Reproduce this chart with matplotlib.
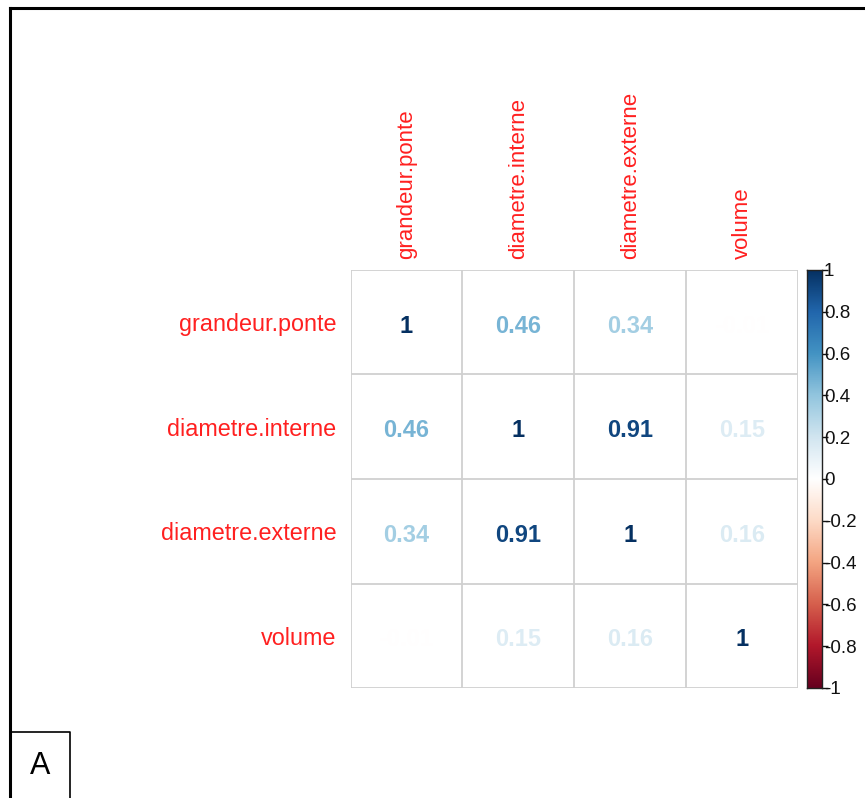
import matplotlib
matplotlib.use("Agg")
import matplotlib.pyplot as plt
import numpy as np
from matplotlib.colors import LinearSegmentedColormap
from matplotlib.lines import Line2D

# ---- data ----
variables = ["grandeur.ponte", "diametre.interne", "diametre.externe", "volume"]
row_gp = [1.00, 0.46, 0.34, -0.01]
row_di = [0.46, 1.00, 0.91, 0.15]
row_de = [0.34, 0.91, 1.00, 0.16]
row_vo = [-0.01, 0.15, 0.16, 1.00]
cbar_ticks = [-1, -0.8, -0.6, -0.4, -0.2, 0, 0.2, 0.4, 0.6, 0.8, 1]
cbar_labels = ["-1", "-0.8", "-0.6", "-0.4", "-0.2", "0", "0.2", "0.4", "0.6", "0.8", "1"]
panel_label = "A"

corr = np.array([row_gp, row_di, row_de, row_vo])

plt.rcParams['font.family'] = ['Liberation Sans', 'DejaVu Sans']

cmap = LinearSegmentedColormap.from_list(
    "corrRdBu",
    ["#67001F", "#B2182B", "#D6604D", "#F4A582", "#FDDBC7", "#FFFFFF",
     "#D1E5F0", "#92C5DE", "#4393C3", "#2166AC", "#053061"], N=200)

W, H = 865, 798
fig = plt.figure(figsize=(W / 100, H / 100), dpi=100)


def rect(x0, y0, x1, y1):
    return [x0 / W, 1 - y1 / H, (x1 - x0) / W, (y1 - y0) / H]


# ---- main matrix ----
ax = fig.add_axes(rect(350.5, 270, 798, 688))
n = len(variables)
ax.set_xlim(0, n)
ax.set_ylim(n, 0)
for k in range(n + 1):
    ax.axhline(k, color="#D0D0D0", lw=1.3, zorder=1)
    ax.axvline(k, color="#D0D0D0", lw=1.3, zorder=1)
for s in ax.spines.values():
    s.set_visible(False)

for i in range(n):
    for j in range(n):
        v = corr[i, j]
        txt = "1" if v == 1 else f"{v:.2f}"
        ax.text(j + 0.5, i + 0.54, txt, ha="center", va="center",
                fontsize=17, fontweight="bold", color=cmap((v + 1) / 2), zorder=3)

ax.set_yticks(np.arange(n) + 0.5)
ax.set_yticklabels(variables, fontsize=16.8, color="#FF2020")
ax.tick_params(axis="y", length=0, pad=10)
ax.xaxis.tick_top()
ax.set_xticks(np.arange(n) + 0.5)
ax.set_xticklabels(variables, fontsize=16, color="#FF2020", rotation=90)
ax.tick_params(axis="x", length=0, pad=8)

# ---- colorbar ----
cax = fig.add_axes(rect(807, 270, 822, 688))
grad = np.linspace(-1, 1, 200).reshape(-1, 1)
cax.imshow(grad, aspect="auto", cmap=cmap, origin="lower", extent=[0, 1, -1, 1],
           vmin=-1, vmax=1)
cax.set_xticks([])
cax.yaxis.tick_right()
cax.set_yticks(cbar_ticks)
cax.set_yticklabels(cbar_labels, fontsize=13.5, color="#111111")
cax.tick_params(axis="y", length=4, width=1, pad=-2.5, colors="#111111")
for s in cax.spines.values():
    s.set_linewidth(1)
    s.set_color("#222222")

# ---- figure border and panel label ----
fig.add_artist(Line2D([9.8 / W, 9.8 / W], [0, 1 - 8 / H], transform=fig.transFigure,
                      color="black", lw=2.2))
fig.add_artist(Line2D([9.8 / W, 1], [1 - 8 / H, 1 - 8 / H], transform=fig.transFigure,
                      color="black", lw=2.2))
fig.add_artist(Line2D([10 / W, 70 / W, 70 / W], [1 - 732 / H, 1 - 732 / H, 0],
                      transform=fig.transFigure, color="black", lw=1.2))
fig.text(40 / W, 1 - 766 / H, panel_label, ha="center", va="center", fontsize=22,
         color="black")

fig.savefig("out.png", dpi=100, facecolor="white")
